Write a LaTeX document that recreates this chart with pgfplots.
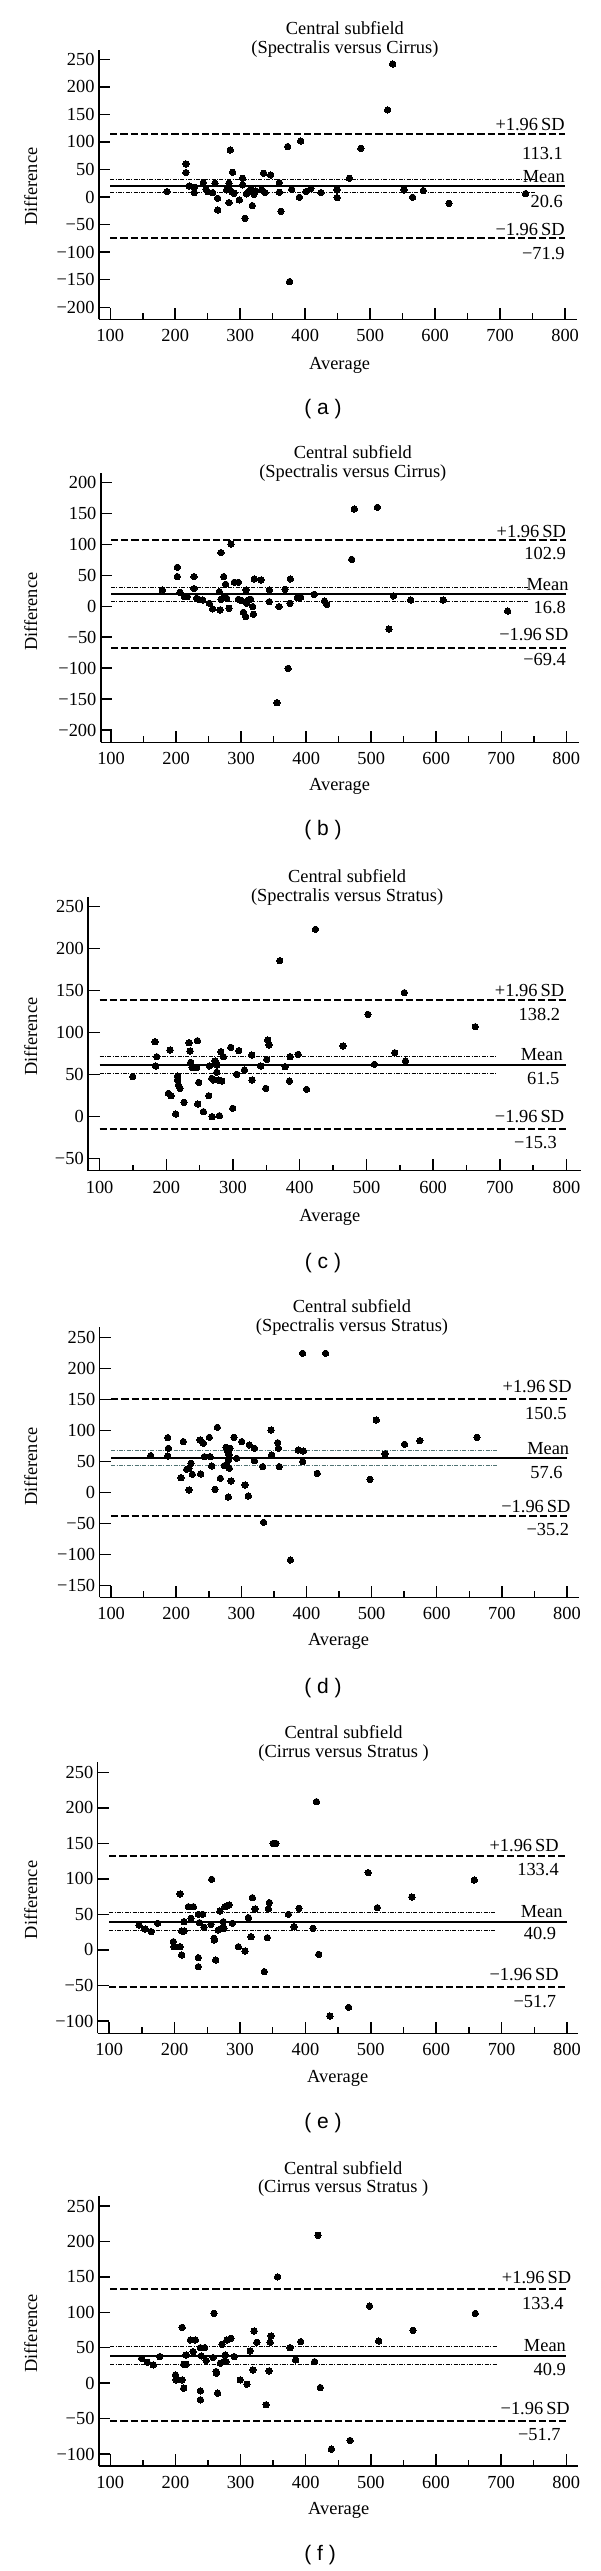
\documentclass[border=0pt]{standalone}
\usepackage{fontspec}
\setmainfont{Liberation Serif}
\setsansfont{Liberation Sans}
\usepackage{pgfplots}
\pgfplotsset{compat=1.18}
\newcommand{\ser}{\fontsize{9.2}{9.4}\selectfont}
\newcommand{\capf}{\fontsize{10.5}{12}\selectfont\sffamily}
\definecolor{ddteal}{RGB}{80,115,115}
\tikzset{lab/.style={anchor=east, font=\ser, inner sep=0pt}}
\pgfplotsset{
 ba/.style={
  scale only axis, clip=false,
  axis lines*=left,
  axis line style={line width=0.75pt, -},
  tick align=inside,
  major tick length=5.8pt, minor tick length=3pt,
  tick style={black, line width=0.75pt},
  xtick={100,200,300,400,500,600,700,800},
  minor x tick num=1,
  xticklabels={100,200,300,400,500,600,700,800},
  tick label style={font=\ser},
  xticklabel style={anchor=north, inner sep=0pt, yshift=-5pt},
  yticklabel style={anchor=east, inner sep=0pt, xshift=-2pt},
  every axis title/.style={anchor=center, align=center, font=\ser, inner sep=0pt},
  every axis x label/.style={anchor=center, font=\ser, inner sep=0pt},
  every axis y label/.style={anchor=center, rotate=90, font=\ser, inner sep=0pt},
 },
 pts/.style={only marks, mark=*, mark size=1.6pt, mark options={fill=black, draw=black, line width=0pt}},
 sd/.style={black, line width=0.85pt, dash pattern=on 3.6pt off 1.5pt},
 mn/.style={black, line width=1pt},
 dd/.style={black, line width=0.4pt, dash pattern=on 2pt off 0.7pt on 0.5pt off 0.7pt},
}
\begin{document}
\begin{tikzpicture}
\useasboundingbox (0,0) rectangle (300pt,1285.5pt);

% ---------------- (a)
\begin{axis}[ba, at={(49.45pt,1125.85pt)}, anchor=south west,
 width=238.85pt, height=134.65pt,
 xmin=82.5, xmax=817.7, ymin=-221.8, ymax=266.9,
 ytick={-200,-150,-100,-50,0,50,100,150,200,250},
 yticklabels={−200,−150,−100,−50,0,50,100,150,200,250},
 title={Central subfield\\(Spectralis versus Cirrus)},
 title style={at={(rel axis cs:0.515,1.040)}},
 xlabel={Average}, xlabel style={at={(rel axis cs:0.504,-0.1697)}},
 ylabel={Difference}, ylabel style={at={(rel axis cs:-0.1428,0.4924)}},
]
\addplot[sd] coordinates {(100,115) (800,115)};
\addplot[mn] coordinates {(100,20.2) (800,20.2)};
\addplot[dd] coordinates {(100,32.2) (753,32.2)};
\addplot[dd] coordinates {(100,8.7) (753,8.7)};
\addplot[sd] coordinates {(100,-73.7) (800,-73.7)};
\addplot[pts] coordinates {
(187.3,9.9) (216.5,60.1) (216.5,44.4) (221.6,20.2) (229.3,17.8) (229.3,8.1)
(243.2,26.2) (247.3,14.1) (249.9,9.9) (257.6,8.1) (261.1,25.0) (265.3,-2.2)
(265.3,-23.4) (279.1,12.9) (282.7,25) (282.7,16) (282.7,-10.1) (284.7,85.5)
(286.8,9.9) (288.3,45) (290.4,6.9) (298.6,-5.2) (303.7,34.1) (303.7,22)
(307.3,-38.5) (309.9,5.7) (312.5,9.9) (316.6,12.9) (318.6,-15.5) (321.2,5.1)
(323.7,11.1) (333.0,12.9) (336.1,43.2) (338.1,8.1) (346.8,40.1) (360.2,26.2)
(360.2,8.7) (362.7,-25.8) (373.0,91.6) (376,-153.4) (379.2,14.1) (391.0,-0.4)
(393.0,101.8) (401.2,9.9) (408.9,15.9) (424.3,8.1) (449.1,12.9) (449.1,-1)
(468,34.1) (485.7,88.5) (526.9,158.1) (534.6,241.5) (552.3,12.9) (565.3,-0.4)
(581.8,11.7) (621.3,-11.3) (739.2,6.3)
};
\node[lab] at (axis cs:800,130.8) {+1.96\,SD};
\node[lab] at (axis cs:797,78.2) {113.1};
\node[lab] at (axis cs:800,37) {Mean};
\node[lab] at (axis cs:797,-8.3) {20.6};
\node[lab] at (axis cs:800,-58.4) {−1.96\,SD};
\node[lab] at (axis cs:800,-102) {−71.9};
\node[font=\capf] at (rel axis cs:0.469,-0.334) {( a )};
\end{axis}

% ---------------- (b)
\begin{axis}[ba, at={(50.4pt,914.35pt)}, anchor=south west,
 width=238.85pt, height=134.8pt,
 xmin=84.2, xmax=818.8, ymin=-219.9, ymax=216.2,
 ytick={-200,-150,-100,-50,0,50,100,150,200},
 yticklabels={−200,−150,−100,−50,0,50,100,150,200},
 title={Central subfield\\(Spectralis versus Cirrus)},
 title style={at={(rel axis cs:0.5275,1.0328)}},
 xlabel={Average}, xlabel style={at={(rel axis cs:0.4999,-0.1647)}},
 ylabel={Difference}, ylabel style={at={(rel axis cs:-0.1467,0.4844)}},
]
\addplot[sd] coordinates {(100,107.3) (800,107.3)};
\addplot[mn] coordinates {(100,19.5) (800,19.5)};
\addplot[dd] coordinates {(100,30.8) (742,30.8)};
\addplot[dd] coordinates {(100,7.5) (742,7.5)};
\addplot[sd] coordinates {(100,-67.8) (800,-67.8)};
\addplot[pts] coordinates {
(178.8,26.5) (201.9,63.2) (201.9,48.1) (206,22.7) (212.7,15.7) (217.3,15.7)
(227.5,48.1) (227.5,28.7) (231.6,13.0) (234.2,11.4) (240.9,10.3) (251.1,4.9)
(256.2,-4.2) (266.5,23.8) (267.5,-5.8) (269.0,86.9) (269.0,11.4) (273.1,48.1)
(274.2,15.7) (276.2,35.7) (277.8,13.0) (281.3,-3.1) (284.4,100.8) (289.5,38.9)
(295.7,38.9) (295.7,11.4) (300.8,9.3) (303.4,-9.6) (307,-16.6) (307.5,26.5)
(308.5,4.9) (311.1,10.3) (314.7,11.4) (317.7,-0.4) (318.8,-12.8) (320.3,44.3)
(330.6,42.7) (343.4,26.5) (343.4,7.6) (355.1,-155.8) (358.2,-0.4) (367.5,27.6)
(372.2,-100.3) (375.2,4.9) (375.7,44.3) (386.4,14.1) (391.6,14.6) (412.3,19.4)
(428.2,8.6) (431.7,3.2) (470,76) (474.1,157.4) (509.5,160.1) (527.2,-36.7)
(534.2,16.7) (560.8,10.2) (610.8,10.2) (709.8,-7.6)
};
\node[lab] at (axis cs:800,120.8) {+1.96\,SD};
\node[lab] at (axis cs:800,84.7) {102.9};
\node[lab] at (axis cs:804,34.5) {Mean};
\node[lab] at (axis cs:800,-1.5) {16.8};
\node[lab] at (axis cs:804,-46.3) {−1.96\,SD};
\node[lab] at (axis cs:800,-86.8) {−69.4};
\node[font=\capf] at (rel axis cs:0.465,-0.3253) {( b )};
\end{axis}

% ---------------- (c)
\begin{axis}[ba, at={(44.05pt,700.15pt)}, anchor=south west,
 width=246.2pt, height=136.7pt,
 xmin=82.7, xmax=821, ymin=-64.8, ymax=261.2,
 ytick={-50,0,50,100,150,200,250},
 yticklabels={−50,0,50,100,150,200,250},
 title={Central subfield\\(Spectralis versus Stratus)},
 title style={at={(rel axis cs:0.526,1.0371)}},
 xlabel={Average}, xlabel style={at={(rel axis cs:0.491,-0.1704)}},
 ylabel={Difference}, ylabel style={at={(rel axis cs:-0.1166,0.4901)}},
]
\addplot[sd] coordinates {(100,138.8) (800,138.8)};
\addplot[mn] coordinates {(100,61.2) (800,61.2)};
\addplot[dd] coordinates {(100,71.2) (695,71.2)};
\addplot[dd] coordinates {(100,51.4) (695,51.4)};
\addplot[sd] coordinates {(100,-15.4) (800,-15.4)};
\addplot[pts] coordinates {
(149.6,47.3) (183.1,89.0) (184.1,60.0) (185.6,71.1) (203.1,27.4) (205.6,79.1)
(207.1,24.6) (214.1,2.8) (216.6,43.3) (217.1,48.1) (218.1,37.4) (220.6,33.4)
(226.6,16.7) (234.1,87.8) (235.6,77.9) (236.6,64.4) (238.6,58.4) (245.6,58.0)
(246.6,90.2) (247.1,14.7) (248.6,40.5) (255.6,5.6) (263.6,24.6) (264.6,60.0)
(268.1,45.3) (268.6,-0.4) (270.6,43.3) (273.1,66.0) (275.6,61.2) (275.6,52.5)
(278.1,43.3) (279.6,0.8) (281.6,77.1) (283.1,42.1) (285.6,71.1) (296.6,82.3)
(299.6,9.6) (305.6,50.1) (308.6,78.3) (317.1,55.3) (328.1,73.1) (328.6,43.3)
(341.6,60.0) (349.1,33.4) (350.6,68.0) (352.1,91.0) (354.1,85.1) (370.1,185.6)
(378.1,59.2) (384.6,42.1) (385.6,71.1) (397.7,73.9) (410.3,32.2) (423.6,223.0)
(464.9,83.9) (502.3,121.6) (512,62) (542.5,75.9) (556.9,147.5) (558.6,66)
(663.2,106.9)
};
\node[lab] at (axis cs:797,149.8) {+1.96\,SD};
\node[lab] at (axis cs:791,120.9) {138.2};
\node[lab] at (axis cs:795,73.2) {Mean};
\node[lab] at (axis cs:790,44.6) {61.5};
\node[lab] at (axis cs:797,-0.4) {−1.96\,SD};
\node[lab] at (axis cs:786,-31.4) {−15.3};
\node[font=\capf] at (rel axis cs:0.477,-0.3387) {( c )};
\end{axis}

% ---------------- (d)
\begin{axis}[ba, at={(49.8pt,486.85pt)}, anchor=south west,
 width=239.45pt, height=135pt,
 xmin=82.3, xmax=817.7, ymin=-168.7, ymax=266.1,
 ytick={-150,-100,-50,0,50,100,150,200,250},
 yticklabels={−150,−100,−50,0,50,100,150,200,250},
 title={Central subfield\\(Spectralis versus Stratus)},
 title style={at={(rel axis cs:0.527,1.0363)}},
 xlabel={Average}, xlabel style={at={(rel axis cs:0.4989,-0.1644)}},
 ylabel={Difference}, ylabel style={at={(rel axis cs:-0.1439,0.4837)}},
]
\addplot[sd] coordinates {(100,151.1) (800,151.1)};
\addplot[mn] coordinates {(100,56.1) (800,56.1)};
\addplot[dd, ddteal] coordinates {(100,68.6) (693,68.6)};
\addplot[dd, ddteal] coordinates {(100,44.4) (693,44.4)};
\addplot[sd] coordinates {(100,-37.8) (800,-37.8)};
\addplot[pts] coordinates {
(160.8,59.4) (186.9,88.4) (186.9,58.9) (187.9,71.2) (207.3,24.0) (210.9,82.0)
(216.0,37.4) (219.6,39.0) (219.6,4.1) (222.7,47.1) (224.7,29.3) (236.5,84.6)
(237.5,29.9) (241.6,79.3) (243.2,57.8) (250.8,88.9) (251.9,57.8) (254.4,42.8)
(259.5,5.2) (263.1,105.0) (267.7,22.9) (273.9,43.3) (276.4,72.8) (277.5,44.4)
(279.0,65.9) (280.0,52.4) (280.0,-7.2) (281.0,60.5) (281.5,39.0) (282.6,71.2)
(284.1,18.6) (288.7,88.9) (292.8,55.1) (300.5,82.0) (305.6,12.2) (310.7,-5.5)
(312.3,76.6) (320.0,71.2) (320.0,51.4) (332.7,41.7) (334.1,-48.0) (345.5,100.7)
(346.5,60.5) (355.8,80.3) (356.8,71.2) (358.3,41.7) (375.3,-108.7) (387.5,68.5)
(394.1,224.2) (394.1,49.8) (395.2,66.9) (416.5,30.9) (429.4,224.2) (497.6,21.3)
(507.1,116.9) (520.6,62.1) (550.6,77.7) (574.1,83.6) (661.8,88.9)
};
\node[lab] at (axis cs:808,170.5) {+1.96\,SD};
\node[lab] at (axis cs:800,127.6) {150.5};
\node[lab] at (axis cs:804,71.3) {Mean};
\node[lab] at (axis cs:794,32) {57.6};
\node[lab] at (axis cs:806,-22.8) {−1.96\,SD};
\node[lab] at (axis cs:804,-59.2) {−35.2};
\node[font=\capf] at (rel axis cs:0.4665,-0.337) {( d )};
\end{axis}

% ---------------- (e)
\begin{axis}[ba, at={(48.85pt,268.85pt)}, anchor=south west,
 width=240.4pt, height=135.5pt,
 xmin=82.4, xmax=817.6, ymin=-117.3, ymax=264.1,
 ytick={-100,-50,0,50,100,150,200,250},
 yticklabels={−100,−50,0,50,100,150,200,250},
 title={Central subfield\\(Cirrus versus Stratus )},
 title style={at={(rel axis cs:0.5114,1.0701)}},
 xlabel={Average}, xlabel style={at={(rel axis cs:0.4992,-0.166)}},
 ylabel={Difference}, ylabel style={at={(rel axis cs:-0.1393,0.4919)}},
]
\addplot[sd] coordinates {(100,132.2) (800,132.2)};
\addplot[mn] coordinates {(100,39.8) (800,39.8)};
\addplot[dd] coordinates {(100,52.4) (692,52.4)};
\addplot[dd] coordinates {(100,28.1) (692,28.1)};
\addplot[sd] coordinates {(100,-52.6) (800,-52.6)};
\addplot[pts] coordinates {
(145.6,35.1) (154.8,29.5) (164.0,25.8) (174.1,37.5) (198.1,11.7) (199.1,4.6)
(208.3,78.8) (208.3,4.6) (210.8,26.7) (210.8,-7.1) (214.4,26.7) (214.4,39.8)
(221.0,60.9) (225.1,44.5) (228.7,60.9) (236.3,50.1) (236.3,-10.8) (236.3,-23.5)
(237.8,38.4) (242.9,50.1) (245.0,31.9) (255.7,36.1) (256.7,99.4) (260.3,16.4)
(260.8,14.0) (262.8,-14.1) (266.9,28.1) (269.4,54.8) (272.0,30.4) (274.5,39.8)
(275.6,30.4) (277.1,60.9) (283.2,63.3) (288.3,37.5) (297.5,4.6) (307.7,-1.5)
(312.8,45.5) (316.9,18.7) (318.9,73.6) (323.0,57.7) (337.2,-30.5) (341.8,17.3)
(343.4,57.7) (344.9,66.6) (350.7,150) (354.8,150) (373.9,50.1) (382.6,32.8)
(390.2,58.6) (411.6,30.4) (416.9,208.7) (420.4,-6.2) (437.4,-93.0) (466.1,-80.8)
(496.0,108.8) (510.0,59.5) (562.7,74.5) (658.3,98.4)
};
\node[lab] at (axis cs:788,146.3) {+1.96\,SD};
\node[lab] at (axis cs:788,113.5) {133.4};
\node[lab] at (axis cs:794,53.8) {Mean};
\node[lab] at (axis cs:784,23.4) {40.9};
\node[lab] at (axis cs:788,-35.3) {−1.96\,SD};
\node[lab] at (axis cs:784,-72.8) {−51.7};
\node[font=\capf] at (rel axis cs:0.4686,-0.3321) {( e )};
\end{axis}

% ---------------- (f)
\begin{axis}[ba, at={(49.45pt,52.5pt)}, anchor=south west,
 width=239.45pt, height=135pt,
 xmin=82.5, xmax=817.7, ymin=-116.9, ymax=264.1,
 ytick={-100,-50,0,50,100,150,200,250},
 yticklabels={−100,−50,0,50,100,150,200,250},
 title={Central subfield\\(Cirrus versus Stratus )},
 title style={at={(rel axis cs:0.5101,1.063)}},
 xlabel={Average}, xlabel style={at={(rel axis cs:0.5007,-0.163)}},
 ylabel={Difference}, ylabel style={at={(rel axis cs:-0.1424,0.4915)}},
]
\addplot[sd] coordinates {(100,132.4) (800,132.4)};
\addplot[mn] coordinates {(100,38.7) (800,38.7)};
\addplot[dd] coordinates {(100,51.4) (694,51.4)};
\addplot[dd] coordinates {(100,27.0) (694,27.0)};
\addplot[sd] coordinates {(100,-53.2) (800,-53.2)};
\addplot[pts] coordinates {
(148.2,35.0) (156.8,29.5) (166.0,25.8) (176.1,37.5) (200.1,11.7) (201.1,4.6)
(210.3,78.8) (210.3,4.6) (212.8,26.7) (212.8,-7.1) (216.4,26.7) (216.4,39.8)
(223.0,60.9) (227.1,44.5) (230.7,60.9) (238.3,50.1) (238.3,-10.8) (238.3,-23.5)
(239.8,38.4) (244.9,50.1) (247.0,31.9) (257.7,36.1) (259.2,98.5) (262.3,16.4)
(262.8,14.0) (264.8,-14.1) (268.9,28.1) (271.4,54.8) (274.0,30.4) (276.5,39.8)
(277.6,30.4) (279.1,60.9) (285.2,63.3) (290.3,37.5) (299.5,4.6) (309.7,-1.5)
(314.8,45.5) (318.9,18.7) (320.9,73.6) (325.0,57.7) (339.2,-30.5) (343.8,17.3)
(345.4,57.7) (346.9,66.6) (356.8,150) (375.9,50.1) (384.6,32.8)
(392.2,58.6) (413.6,30.4) (418.9,208.7) (422.4,-6.2) (439.4,-93.0) (468.1,-80.8)
(498.0,108.8) (512.0,59.5) (564.7,74.5) (660.3,98.4)
};
\node[lab] at (axis cs:808,148.8) {+1.96\,SD};
\node[lab] at (axis cs:796.5,112.7) {133.4};
\node[lab] at (axis cs:800,52.4) {Mean};
\node[lab] at (axis cs:800,18.6) {40.9};
\node[lab] at (axis cs:806,-35.5) {−1.96\,SD};
\node[lab] at (axis cs:792,-73.2) {−51.7};
\node[font=\capf] at (rel axis cs:0.4617,-0.3296) {( f )};
\end{axis}
\end{tikzpicture}
\end{document}
